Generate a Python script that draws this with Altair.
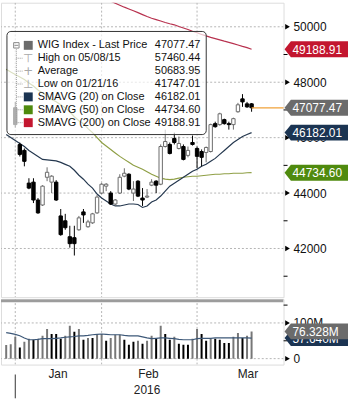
import altair as alt
import pandas as pd

# ---------------- data ----------------
# trading-day index: 0 = 04 Jan 2016, -1 = 30 Dec 2015, 51 = 16 Mar 2016
candle_first_day = -1
price_open = [47080, 45750, 45540, 44360, 44395, 43750, 43570, 44570, 44395, 44395,
              43175, 43000, 42425, 42390, 42675, 43320, 42785, 42925, 43285, 44000,
              44250, 44000, 43605, 44000, 44610, 44680, 44000, 44430, 43820, 43855,
              44285, 44430, 44320, 45680, 45755, 45970, 45610, 45680, 45360, 45825,
              45610, 45500, 45465, 45500, 46505, 46470, 46650, 46505, 46470, 46935,
              47400, 47220, 47220]
price_high = [47290, 45820, 45610, 44535, 44535, 43820, 44285, 44930, 44645, 44465,
              43425, 43250, 42820, 42820, 43175, 43425, 43035, 43285, 43930, 44360,
              44360, 44070, 43785, 44680, 44895, 44715, 44430, 44465, 44180, 44145,
              44500, 44465, 45755, 46290, 45825, 46180, 46040, 45755, 45680, 46075,
              45680, 45575, 45680, 46505, 46575, 46900, 46685, 46575, 46720, 47255,
              47570, 47290, 47250]
price_low = [46360, 45320, 44965, 44140, 43640, 43250, 43535, 44430, 44000, 43715,
             42460, 42675, 42030, 41747.01, 42640, 42925, 42750, 42890, 43250, 43965,
             44070, 43570, 43535, 43965, 44570, 44105, 43715, 43855, 43535, 43820,
             44250, 44000, 44285, 45645, 45395, 45755, 45575, 45180, 45290, 45715,
             44895, 44965, 45110, 45465, 46360, 46430, 46470, 46290, 46290, 46900,
             47110, 47075, 46935]
price_close = [46470, 45395, 45145, 44180, 43750, 43285, 44250, 44750, 44610, 43750,
               42500, 42750, 42175, 42175, 43105, 43210, 42960, 43250, 43855, 44320,
               44320, 43605, 43750, 44570, 44715, 44145, 44145, 43890, 43750, 43890,
               44395, 44285, 45680, 45860, 45430, 45825, 45790, 45215, 45540, 45755,
               45325, 45290, 45645, 46470, 46395, 46860, 46505, 46470, 46685, 47185,
               47290, 47110, 47077.47]

line_first_day = -3
sma20 = [46111, 46004, 45896, 45789, 45681, 45538, 45431, 45324, 45216, 45198,
         45180, 45163, 45109, 45037, 44966, 44823, 44644, 44500, 44322, 44179,
         43964, 43821, 43714, 43606, 43535, 43535, 43570, 43606, 43606, 43588,
         43481, 43535, 43678, 43749, 43892, 44071, 44250, 44358, 44465, 44572,
         44680, 44787, 44858, 44966, 45037, 45145, 45252, 45395, 45538, 45681,
         45825, 45932, 46039, 46111, 46182.01]
sma50 = [48472, 48365, 48275, 48186, 48096, 47971, 47864, 47721, 47613, 47506,
         47381, 47292, 47184, 47077, 46934, 46755, 46612, 46504, 46326, 46182,
         46003, 45825, 45699, 45574, 45449, 45324, 45216, 45109, 45002, 44930,
         44859, 44769, 44680, 44608, 44537, 44501, 44483, 44501, 44537, 44572,
         44590, 44608, 44608, 44626, 44644, 44662, 44680, 44680, 44697, 44697,
         44715, 44715, 44715, 44733, 44734.60]
sma200_first_day = 18
sma200 = [51012, 50966, 50923, 50852, 50780, 50708, 50644, 50580, 50512, 50440,
          50369, 50308, 50261, 50208, 50154, 50111, 50072, 50011, 49957, 49903,
          49839, 49785, 49724, 49674, 49617, 49574, 49528, 49481, 49438, 49392,
          49345, 49295, 49249, 49188.91]

volume_m = [38, 40, 61, 31, 47, 56, 53, 56, 64, 83, 69, 69, 56, 64, 92, 75, 83, 53, 58, 58,
            67, 69, 50, 58, 67, 67, 53, 39, 47, 50, 42, 50, 64, 56, 92, 69, 53, 61, 42, 39,
            39, 56, 83, 69, 50, 56, 56, 53, 44, 44, 61, 72, 58, 64, 76.328]
volume_shade = list("gggkggkgggkkkggkgkgkggkgggkkkgkggkgkkgkkkggkkgkkkkggkgg")
volume_sma_m = [73, 71, 68, 64, 58, 53, 53, 54, 56, 56, 56, 57, 58, 60, 61, 62, 64, 64, 65, 67,
                68, 69, 68, 67, 67, 67, 65, 64, 64, 64, 61, 58, 56, 57, 58, 58, 57, 56, 54, 53,
                53, 53, 56, 57, 57, 57, 58, 58, 58, 58, 58, 58, 58, 58, 57.64]

month_end_days = [-1, 18, 39]
month_labels = ["Jan", "Feb", "Mar"]
month_label_days = [8.4, 28.3, 50.2]
year_label = ["2016"]
year_label_day = [28.0]
year_start_day = [-1]

price_major = [42000, 44000, 46000, 48000, 50000]
price_minor = [41000, 43000, 45000, 47000, 49000]
vol_major = [0, 100e6]
vol_minor = [50e6, 150e6]

legend_labels = ["WIG Index - Last Price", "High on 05/08/15", "Average", "Low on 01/21/16",
                 "SMAVG (20) on Close", "SMAVG (50) on Close", "SMAVG (200) on Close"]
legend_values = ["47077.47", "57460.44", "50683.95", "41747.01", "46182.01", "44734.60", "49188.91"]

price_tag_values = [49188.91, 47077.47, 46182.01, 44734.60]
price_tag_text = ["49188.91", "47077.47", "46182.01", "44734.60"]
vol_tag_values = [57.64e6, 76.328e6]
vol_tag_text = ["57.640M", "76.328M"]

# ---------------- styles ----------------
NAVY = "#1b3452"
GREEN_TAG = "#4f8a0e"
RED_TAG = "#c3162f"
GRAY_TAG = "#6b6b6b"
SMA20_C = "#25384f"
SMA50_C = "#8f9f45"
SMA200_C = "#b8324f"
UP_C = "#6a6a6a"
W, H_TOP, H_BOT = 285, 297, 66
FONT = "Liberation Sans"

xs = alt.Scale(domain=[-3.053, 56.947], nice=False, zero=False)
ys = alt.Scale(domain=[40243.8, 50869.5], nice=False, zero=False)
vs = alt.Scale(domain=[-16.67e6, 166.67e6], nice=False, zero=False)

n_c = len(price_open)
candles = pd.DataFrame({
    "day": list(range(candle_first_day, candle_first_day + n_c)),
    "open": price_open, "high": price_high, "low": price_low, "close": price_close,
})
n_l = len(sma20)
lines = pd.DataFrame({
    "day": list(range(line_first_day, line_first_day + n_l)),
    "sma20": sma20, "sma50": sma50,
    "vol": [v * 1e6 for v in volume_m], "shade": volume_shade,
    "vsma": [v * 1e6 for v in volume_sma_m],
})
s200 = pd.DataFrame({"day": list(range(sma200_first_day, sma200_first_day + len(sma200))),
                     "sma200": sma200})

X = lambda: alt.X("day:Q", scale=xs, axis=None)
one = pd.DataFrame({"a": [0]})

price_axis = alt.Axis(orient="right", values=price_major, labels=False, title=None, grid=False,
                      tickSize=4, tickColor="#000", domainColor="#000")

hgrid = alt.Chart(pd.DataFrame({"p": price_major})).mark_rule(
    color="#b5b5b5", strokeDash=[2, 2], strokeWidth=1, clip=True).encode(
    y=alt.Y("p:Q", scale=ys, axis=price_axis))
plabels = alt.Chart(pd.DataFrame({"p": price_major})).mark_text(
    align="left", baseline="middle", fontSize=12, font=FONT, color="#111", dy=0.5).encode(
    x=alt.value(W + 10), y=alt.Y("p:Q", scale=ys, axis=None), text=alt.Text("p:Q", format="d"))
vgrid = alt.Chart(pd.DataFrame({"day": month_end_days})).mark_rule(
    color="#b5b5b5", strokeDash=[2, 2], strokeWidth=1, clip=True).encode(x=X())
pminor = alt.Chart(pd.DataFrame({"p": price_minor})).mark_tick(
    orient="horizontal", size=4, thickness=1, color="#000", opacity=1).encode(
    x=alt.value(W + 2), y=alt.Y("p:Q", scale=ys, axis=None))

l20 = alt.Chart(lines).mark_line(color=SMA20_C, strokeWidth=1.2, clip=True).encode(
    x=X(), y=alt.Y("sma20:Q", scale=ys, axis=None))
l50 = alt.Chart(lines).mark_line(color=SMA50_C, strokeWidth=1.2, clip=True).encode(
    x=X(), y=alt.Y("sma50:Q", scale=ys, axis=None))
l200 = alt.Chart(s200).mark_line(color=SMA200_C, strokeWidth=1.2, clip=True).encode(
    x=X(), y=alt.Y("sma200:Q", scale=ys, axis=None))

down = alt.datum.close < alt.datum.open
wick = alt.Chart(candles).mark_rule(strokeWidth=1).encode(
    x=X(), y=alt.Y("low:Q", scale=ys, axis=None), y2="high:Q",
    color=alt.condition(down, alt.value("#000"), alt.value(UP_C)))
body = alt.Chart(candles).mark_bar(size=3.4, orient="vertical", strokeWidth=1).encode(
    x=X(), y=alt.Y("open:Q", scale=ys, axis=None), y2="close:Q",
    fill=alt.condition(down, alt.value("#000"), alt.value("#fff")),
    stroke=alt.condition(down, alt.value("#000"), alt.value(UP_C)))

last = alt.Chart(candles.tail(1)).mark_rule(color="#f0a23a", strokeWidth=1.2).encode(
    x=X(), x2=alt.value(W), y=alt.Y("close:Q", scale=ys, axis=None))

# legend box
leg_box = alt.Chart(one).mark_rect(fill="#fff", fillOpacity=0.68, stroke="#333",
                                   strokeWidth=1, cornerRadius=4).encode(
    x=alt.value(6), x2=alt.value(207), y=alt.value(29), y2=alt.value(133))
legend_df = pd.DataFrame({"row": list(range(len(legend_labels))),
                          "label": legend_labels, "value": legend_values})
row_y = lambda k: 43 + 13 * k
legend_layers = [leg_box]
legend_layers.append(alt.Chart(one).mark_rule(color="#9a9a9a", strokeDash=[1, 1]).encode(
    x=alt.value(15.5), y=alt.value(47), y2=alt.value(row_y(6))))
legend_layers.append(alt.Chart(one).mark_point(shape="square", filled=False, size=30,
                                               color="#8a8a8a", strokeWidth=1, opacity=1).encode(
    x=alt.value(15.5), y=alt.value(43)))
legend_layers.append(alt.Chart(one).mark_rule(color="#8a8a8a").encode(
    x=alt.value(13.5), x2=alt.value(17.5), y=alt.value(43)))
for k in range(len(legend_labels)):
    base = alt.Chart(legend_df).transform_filter(alt.datum.row == k)
    if k > 0:
        legend_layers.append(alt.Chart(one).mark_rule(color="#9a9a9a", strokeDash=[1, 1]).encode(
            x=alt.value(15.5), x2=alt.value(22), y=alt.value(row_y(k))))
    legend_layers.append(base.mark_text(align="left", baseline="middle", fontSize=11,
                                        font=FONT, color="#111").encode(
        x=alt.value(37), y=alt.value(row_y(k)), text="label:N"))
    legend_layers.append(base.mark_text(align="right", baseline="middle", fontSize=11,
                                        font=FONT, color="#111").encode(
        x=alt.value(201), y=alt.value(row_y(k)), text="value:N"))
icon_colors = {0: "#6b6b6b", 4: NAVY, 5: GREEN_TAG, 6: RED_TAG}
for k, c in icon_colors.items():
    legend_layers.append(alt.Chart(one).mark_square(size=81, color=c, opacity=1).encode(
        x=alt.value(27.5), y=alt.value(row_y(k))))
for k, g in [(1, "\u22a4"), (2, "+"), (3, "\u22a5")]:
    legend_layers.append(alt.Chart(one).mark_text(text=g, fontSize=12, font="DejaVu Sans",
                                                  color="#a8a8a8", baseline="middle").encode(
        x=alt.value(27.5), y=alt.value(row_y(k))))

TAG = "M-1,0L-0.8,-0.25L1,-0.25L1,0.25L-0.8,0.25Z"
ptags = pd.DataFrame({"v": price_tag_values, "t": price_tag_text,
                      "c": [RED_TAG, GRAY_TAG, NAVY, GREEN_TAG]})
ptag_shape = alt.Chart(ptags).mark_point(shape=TAG, size=4096, filled=True, opacity=1,
                                         strokeWidth=0).encode(
    x=alt.value(318), y=alt.Y("v:Q", scale=ys, axis=None), color=alt.Color("c:N", scale=None))
ptag_text = alt.Chart(ptags).mark_text(align="left", baseline="middle", fontSize=12,
                                       font=FONT, color="#fff", dy=0.5).encode(
    x=alt.value(294), y=alt.Y("v:Q", scale=ys, axis=None), text="t:N")
ptri = alt.Chart(pd.DataFrame({"p": price_major})).mark_point(
    shape="triangle-right", size=30, filled=True, color="#000", opacity=1).encode(
    x=alt.value(289), y=alt.Y("p:Q", scale=ys, axis=None))

top = alt.layer(hgrid, vgrid, pminor, l50, l200, l20, wick, body, last, *legend_layers,
                ptri, plabels, ptag_shape, ptag_text).properties(width=W, height=H_TOP)

# ---------------- volume panel ----------------
vol_axis = alt.Axis(orient="right", values=vol_major, labels=False, title=None, grid=False,
                    tickSize=4, tickColor="#000", domainColor="#000")
x_axis = alt.Axis(values=month_end_days, labels=False, title=None, grid=False, tickSize=5,
                  tickColor="#000", domainColor="#000")

sep = alt.Chart(one).mark_rule(color="#9c9c9c", strokeWidth=3, clip=True).encode(
    x=alt.value(0), x2=alt.value(W), y=alt.value(1.5))
vh = alt.Chart(pd.DataFrame({"v": vol_major})).mark_rule(
    color="#b5b5b5", strokeDash=[2, 2], clip=True).encode(y=alt.Y("v:Q", scale=vs, axis=vol_axis))
vlabels = alt.Chart(pd.DataFrame({"v": vol_major})).mark_text(
    align="left", baseline="middle", fontSize=12, font=FONT, color="#111", dy=0.5).encode(
    x=alt.value(W + 10), y=alt.Y("v:Q", scale=vs, axis=None), text=alt.Text("v:Q", format="~s"))
vminor = alt.Chart(pd.DataFrame({"v": vol_minor})).mark_tick(
    orient="horizontal", size=4, thickness=1, color="#000", opacity=1).encode(
    x=alt.value(W + 2), y=alt.Y("v:Q", scale=vs, axis=None))
vv = alt.Chart(pd.DataFrame({"day": month_end_days})).mark_rule(
    color="#b5b5b5", strokeDash=[2, 2], clip=True).encode(x=alt.X("day:Q", scale=xs, axis=x_axis))
vbars = alt.Chart(lines).mark_bar(size=2, clip=True).encode(
    x=X(), y=alt.Y("vol:Q", scale=vs, axis=None), y2=alt.datum(0),
    color=alt.condition(alt.datum.shade == "k", alt.value("#000"), alt.value("#777")))
vline = alt.Chart(lines).mark_line(color="#3d5878", strokeWidth=1.2, clip=True).encode(
    x=X(), y=alt.Y("vsma:Q", scale=vs, axis=None))
vtags = pd.DataFrame({"v": vol_tag_values, "t": vol_tag_text, "c": [NAVY, GRAY_TAG]})
vtag_layers = []
for k in range(len(vtags)):
    b = alt.Chart(vtags).transform_filter(alt.datum.t == vol_tag_text[k])
    vtag_layers.append(b.mark_point(shape=TAG, size=4096, filled=True, opacity=1,
                                    strokeWidth=0).encode(
        x=alt.value(318), y=alt.Y("v:Q", scale=vs, axis=None), color=alt.Color("c:N", scale=None)))
    vtag_layers.append(b.mark_text(align="left", baseline="middle", fontSize=12, font=FONT,
                                   color="#fff", dy=0.5).encode(
        x=alt.value(294), y=alt.Y("v:Q", scale=vs, axis=None), text="t:N"))
vtri = alt.Chart(pd.DataFrame({"v": vol_major})).mark_point(
    shape="triangle-right", size=30, filled=True, color="#000", opacity=1).encode(
    x=alt.value(289), y=alt.Y("v:Q", scale=vs, axis=None))
months = alt.Chart(pd.DataFrame({"day": month_label_days, "m": month_labels})).mark_text(
    fontSize=12, font=FONT, color="#222", baseline="middle").encode(
    x=X(), y=alt.value(H_BOT + 10), text="m:N")
year = alt.Chart(pd.DataFrame({"day": year_label_day, "y": year_label})).mark_text(
    fontSize=12, font=FONT, color="#222", baseline="middle").encode(
    x=X(), y=alt.value(H_BOT + 26), text="y:N")
ytick = alt.Chart(pd.DataFrame({"day": year_start_day})).mark_rule(color="#333").encode(
    x=X(), y=alt.value(H_BOT + 10), y2=alt.value(H_BOT + 34))

bottom = alt.layer(vh, vv, vminor, vbars, vline, sep, vtri, vlabels, *vtag_layers, months, year,
                   ytick).properties(width=W, height=H_BOT)

chart = alt.vconcat(top, bottom, spacing=0).properties(padding=0, background="#ffffff") \
    .configure_view(stroke=None).configure(font=FONT)

chart.save("out.html", embed_options={"renderer": "svg", "actions": False})
